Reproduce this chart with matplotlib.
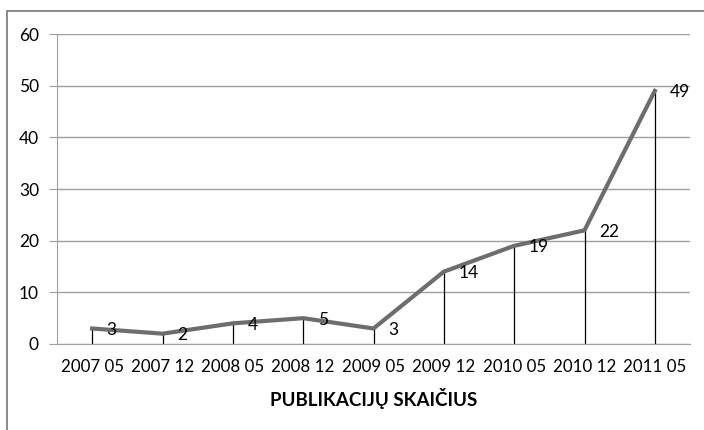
import matplotlib
matplotlib.use('Agg')
import matplotlib.pyplot as plt
from matplotlib.patches import Rectangle

plt.rcParams['font.family'] = ['Lato', 'DejaVu Sans']

labels = ['2007 05', '2007 12', '2008 05', '2008 12', '2009 05',
          '2009 12', '2010 05', '2010 12', '2011 05']
values = [3, 2, 4, 5, 3, 14, 19, 22, 49]

fig = plt.figure(figsize=(7.04, 4.30), dpi=100)
# outer frame (runs off right and bottom edges)
fig.patches.append(Rectangle((7 / 704, -0.1), 1.2, 1 - 11 / 430 + 0.1,
                             transform=fig.transFigure, fill=False,
                             edgecolor='#777777', linewidth=1.2))

ax = fig.add_axes([57 / 704, 1 - 344 / 430, (690 - 57) / 704, (344 - 34) / 430])
x = list(range(len(values)))

ax.set_ylim(0, 60)
ax.set_xlim(-0.5, len(values) - 0.5)
ax.set_yticks(range(0, 61, 10))
ax.yaxis.grid(True, color='#a0a0a0', linewidth=1)
ax.set_axisbelow(True)

for s in ['top', 'right']:
    ax.spines[s].set_visible(False)
ax.spines['left'].set_color('#a0a0a0')
ax.spines['bottom'].set_color('#a0a0a0')
ax.tick_params(axis='y', colors='#a0a0a0', length=6, labelcolor='black',
               labelsize=12.5, pad=7)
ax.tick_params(axis='x', length=0, labelsize=12.2, pad=11)

ax.vlines(x, 0, values, color='black', linewidth=0.9)
ax.plot(x, values, color='#6d6d6d', linewidth=3, solid_joinstyle='round')

for xi, v in zip(x, values):
    ax.annotate(str(v), (xi, v), xytext=(10.5, -1), textcoords='offset points',
                ha='left', va='center', fontsize=12.5)

ax.set_xticks(x)
ax.set_xticklabels(labels)
ax.set_xlabel('PUBLIKACIJŲ SKAIČIUS', fontsize=13.5, fontweight='bold', labelpad=9)

fig.savefig('out.png', dpi=100)
